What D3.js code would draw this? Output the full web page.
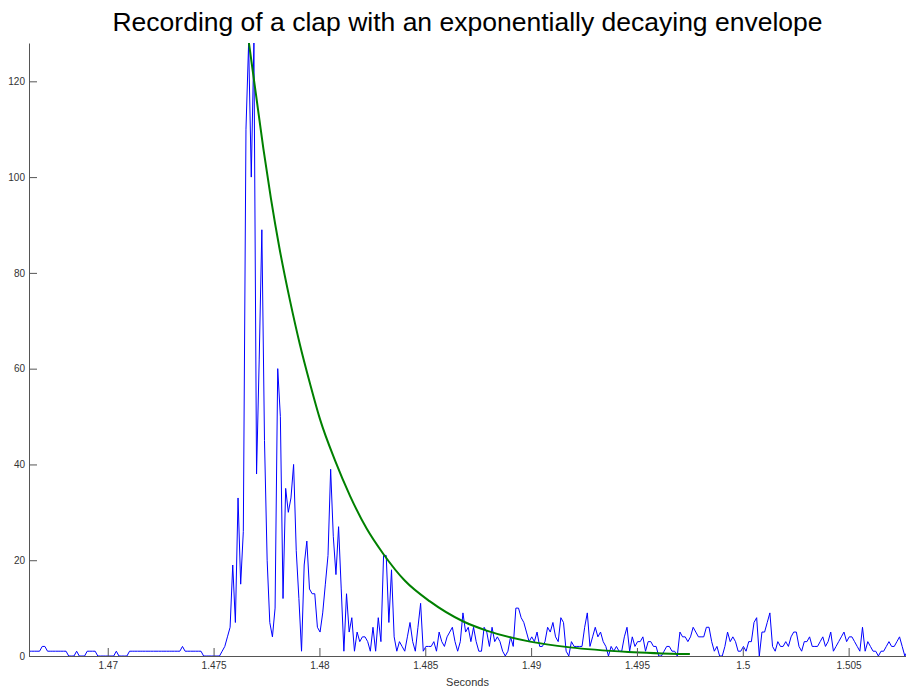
<!DOCTYPE html>
<html>
<head>
<meta charset="utf-8">
<script src="https://cdn.jsdelivr.net/npm/d3@7"></script>
<style>
  body { margin: 0; background: #fff; }
  svg { display: block; font-family: "Liberation Sans", Arial, sans-serif; }
</style>
</head>
<body>
<svg id="chart" width="906" height="687"></svg>
<script>
// clap recording, 8 kHz, absolute sample values
const sampleRate = 8000;
const sampleStart = 1.46628;
const amplitude = [
  1,1,1,1,1,2,2,1,1,1,
  1,1,1,1,1,0,0,0,1,0,
  0,0,1,1,1,1,0,0,0,0,
  0,0,0,1,0,0,0,0,1,1,
  1,1,1,1,1,1,1,1,1,1,
  1,1,1,1,1,1,1,1,2,1,
  1,1,1,1,1,1,0,0,0,0,
  0,0,0,1,2,4,6,19,7,33,
  15,26,110,128,100,128,38,62,89,45,
  20,7,4,10,60,50,12,35,30,33,
  40,22,12,1,19,24,14,13,13,6,
  5,9,15,21,39,25,17,27,14,1,
  13,5,8,1,5,3,4,4,3,1,
  6,1,8,3,21,21,7,18,4,1,
  3,2,1,4,7,3,1,6,11,1,
  2,2,2,3,1,5,3,2,4,5,
  6,3,1,3,9,5,6,3,6,3,
  1,1,6,5,2,6,3,4,3,1,
  0,1,4,2,10,10,8,7,5,3,
  4,3,5,2,2,3,6,5,7,4,
  3,8,7,1,0,3,2,2,2,2,
  6,9,2,4,6,4,5,3,2,0,
  2,1,2,1,1,4,6,1,4,2,
  3,3,4,1,3,3,2,2,0,0,
  1,2,2,1,1,0,5,4,4,3,
  4,6,5,4,4,4,6,6,3,1,
  2,0,0,2,5,3,4,3,1,1,
  2,1,3,3,7,8,0,5,5,7,
  9,2,1,3,2,2,3,2,4,5,
  5,2,1,3,3,4,2,2,2,3,
  4,2,3,5,1,2,3,4,5,3,
  4,4,3,2,1,6,1,3,2,1,
  1,0,1,1,2,3,2,2,3,4,
  2,0,1
];

// decaying envelope
const envelopeTimes = [1.47667, 1.47701, 1.47735, 1.47771, 1.47811, 1.47861, 1.47908,
  1.47956, 1.48003, 1.48074, 1.48145, 1.48223, 1.48302, 1.48404, 1.48522,
  1.48680, 1.48790, 1.48995, 1.49184, 1.49459, 1.49750];
const envelopeValues = [128, 117, 106, 95.5, 85.2, 74.2, 65,
  56.8, 49.4, 40.8, 33.4, 26.6, 21.3, 15.7, 11.4,
  7.2, 5.3, 3.0, 1.8, 0.85, 0.4];

const xTicks = [1.47, 1.475, 1.48, 1.485, 1.49, 1.495, 1.5, 1.505];
const yTicks = [0, 20, 40, 60, 80, 100, 120];

const svg = d3.select("#chart");
const margin = { top: 43, right: 0, bottom: 31, left: 29 };
const width = 906;
const height = 687;

const x = d3.scaleLinear()
    .domain([1.46628, 1.50771])
    .range([margin.left, width - margin.right]);

const y = d3.scaleLinear()
    .domain([0, 128])
    .range([height - margin.bottom, margin.top]);

svg.append("defs").append("clipPath")
    .attr("id", "plotClip")
    .append("rect")
    .attr("x", margin.left)
    .attr("y", margin.top)
    .attr("width", width - margin.left - margin.right)
    .attr("height", height - margin.top - margin.bottom);

const samples = amplitude.map((v, i) => ({ t: sampleStart + i / sampleRate, v: v }));
const envelope = envelopeTimes.map((t, i) => ({ t: t, v: envelopeValues[i] }));

const plot = svg.append("g").attr("clip-path", "url(#plotClip)");

plot.append("path")
    .datum(samples)
    .attr("fill", "none")
    .attr("stroke", "#0000ff")
    .attr("stroke-width", 1)
    .attr("d", d3.line().x(d => x(d.t)).y(d => y(d.v)));

plot.append("path")
    .datum(envelope)
    .attr("fill", "none")
    .attr("stroke", "#008000")
    .attr("stroke-width", 2)
    .attr("d", d3.line().x(d => x(d.t)).y(d => y(d.v)).curve(d3.curveMonotoneX));

// axes, ticks point inward
const xAxis = svg.append("g")
    .attr("transform", `translate(0,${height - margin.bottom})`)
    .call(d3.axisBottom(x)
        .tickValues(xTicks)
        .tickFormat(d => String(+d.toFixed(3)))
        .tickSizeInner(-8)
        .tickSizeOuter(0)
        .tickPadding(6));

const yAxis = svg.append("g")
    .attr("transform", `translate(${margin.left},0)`)
    .call(d3.axisLeft(y)
        .tickValues(yTicks)
        .tickSizeInner(-8)
        .tickSizeOuter(0)
        .tickPadding(4));

[xAxis, yAxis].forEach(g => {
    g.select(".domain").attr("stroke", "#555");
    g.selectAll(".tick line").attr("stroke", "#555");
    g.selectAll(".tick text")
        .attr("fill", "#333")
        .style("font-size", "10px")
        .style("font-family", "'Liberation Sans', Arial, sans-serif");
});

svg.append("text")
    .attr("x", (margin.left + width - margin.right) / 2)
    .attr("y", 686)
    .attr("text-anchor", "middle")
    .attr("fill", "#333")
    .style("font-size", "11px")
    .text("Seconds");

svg.append("text")
    .attr("x", (margin.left + width - margin.right) / 2)
    .attr("y", 31)
    .attr("text-anchor", "middle")
    .attr("fill", "#000")
    .style("font-size", "26.5px")
    .text("Recording of a clap with an exponentially decaying envelope");
</script>
</body>
</html>
